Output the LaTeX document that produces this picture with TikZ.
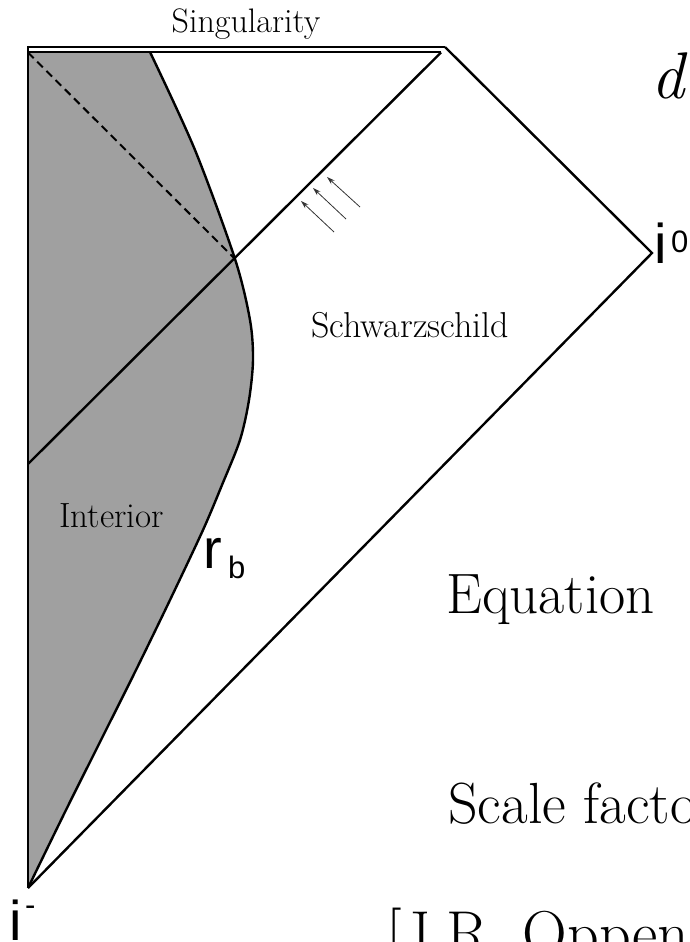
\documentclass[tikz,border=0pt]{standalone}
\usepackage{fontspec}
\newfontfamily\sansf{Liberation Sans}
\usetikzlibrary{arrows.meta}
\definecolor{shadegray}{HTML}{A0A0A0}
\tikzset{
  bnd/.style={line width=2.4pt, line join=miter, line cap=butt},
  lbl/.style={inner sep=0pt, anchor=base west},
  clbl/.style={inner sep=0pt, anchor=base},
  inflow/.style={line width=0.8pt, draw=black!80, -{Stealth[length=8pt,width=5pt]}},
}
\def\rbcurve{(150,52) (195,150) (235,259) (250,320) (253,360) (249,400) (240,440) (222,485) (203,530) (170,600) (136,670) (101,740) (65,812) (28,888)}
\begin{document}
\begin{tikzpicture}[x=1pt,y=-1pt]
\useasboundingbox (0,0) rectangle (689,942);
\clip (0,0) rectangle (689,942);
% key points
\coordinate (SL) at (28,46);
\coordinate (SLb) at (28,52.5);
\coordinate (SR) at (445,47);
\coordinate (SRb) at (441,52.5);
\coordinate (I0) at (652,253);
\coordinate (IM) at (28,888);
\coordinate (H0) at (28,464);
\coordinate (X) at (235,259);
% shaded interior
\fill[shadegray] (SLb) -- plot[smooth, tension=0.5] coordinates {\rbcurve} -- cycle;
% boundary of star surface
\draw[line width=2.4pt] plot[smooth, tension=0.5] coordinates {\rbcurve};
% singularity (double line)
\draw[line width=2pt] (SL |- SR) -- (SR);
\draw[line width=2pt] (SLb) -- (SRb);
% outer boundary
\draw[bnd] (SR) -- (I0) -- (IM);
\draw[bnd] (SL) -- (IM);
% horizon
\draw[bnd] (H0) -- (SRb);
% dashed
\draw[line width=2pt, dash pattern=on 8pt off 5pt] (SLb) -- (X);
% infalling arrows
\coordinate (a1s) at (360,207); \coordinate (a1e) at (327,177);
\coordinate (a2s) at (346,219); \coordinate (a2e) at (313,188);
\coordinate (a3s) at (334,232); \coordinate (a3e) at (301,201);
\draw[inflow] (a1s) -- (a1e);
\draw[inflow] (a2s) -- (a2e);
\draw[inflow] (a3s) -- (a3e);
% labels
\node[clbl] (sing) at (246,33) {\fontsize{34}{37}\selectfont Singularity};
\node[lbl] (schw) at (311,337) {\fontsize{36}{40}\selectfont Schwarzschild};
\node[lbl] (intr) at (59,527) {\fontsize{35}{38}\selectfont Interior};
\node[lbl] (rb) at (203,568) {\sansf\fontsize{56}{60}\selectfont r};
\node[lbl] (rbsub) at (228,578) {\sansf\fontsize{31}{34}\selectfont b};
\node[lbl] (izero) at (654,263) {\sansf\fontsize{56}{60}\selectfont i};
\node[lbl] (izsup) at (671,252) {\sansf\fontsize{31}{34}\selectfont 0};
\node[lbl] (iminus) at (9,940) {\sansf\fontsize{56}{60}\selectfont i};
\node[lbl] (imsup) at (25,915) {\sansf\fontsize{31}{34}\selectfont -};
\node[lbl] (dd) at (651,98) {\fontsize{66}{70}\selectfont\itshape d};
\node[lbl] (eq) at (446,613) {\fontsize{57}{62}\selectfont Equation};
\node[lbl] (sf) at (448,823) {\fontsize{58}{62}\selectfont Scale factor};
\node[lbl] (ref) at (386,954) {\fontsize{62}{66}\selectfont [J.R. Oppenheimer};
\end{tikzpicture}
\end{document}
